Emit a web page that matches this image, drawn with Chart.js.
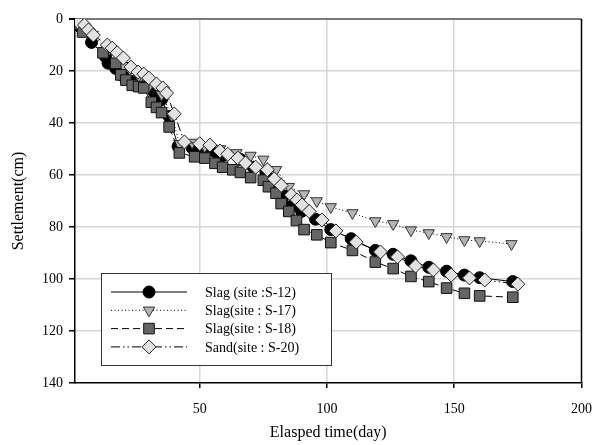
<!DOCTYPE html>
<html>
<head>
<meta charset="utf-8">
<script src="https://cdn.jsdelivr.net/npm/chart.js@4.4.1/dist/chart.umd.min.js"></script>
<style>
  html, body { margin: 0; padding: 0; background: #fff; }
  #wrap { width: 605px; height: 445px; }
</style>
</head>
<body>
<div id="wrap"><canvas id="settlementChart" width="605" height="445"></canvas></div>
<script>
// settlement readings [day, cm]
const slagS12 = [
    [3, 3], [7.5, 9], [13, 14.5], [14, 17], [17, 19], [20, 22], [24, 24], [28, 26], [32, 28], [35, 31],
    [38, 37.5], [41.5, 49], [47, 49.5], [51, 51], [56, 51], [59, 52.5], [66, 54], [71, 57], [76, 59],
    [80, 63], [83, 68], [86, 72], [90, 74], [95.5, 77], [101.5, 81], [109.5, 84.5], [119, 89],
    [126, 90.5], [133, 93], [140, 95.5], [147, 97], [154, 98.5], [160, 99.5], [173, 101]
];
const slagS17 = [
    [3, 2], [8, 6], [14, 12], [20, 18], [26, 22], [30, 26], [35, 29], [39, 37], [42, 48], [47, 47.5],
    [52, 49], [58, 50], [64.5, 51.5], [70, 52.5], [75, 54], [80, 58], [85, 64.5], [91, 67.3], [96, 70],
    [101.5, 72.3], [110, 74.6], [119, 77.7], [126, 78.8], [133, 81.2], [140, 82.3], [147, 83.8],
    [154, 85], [160, 85.4], [172.5, 86.5]
];
const slagS18 = [
    [2, 2], [4, 5], [12, 13], [17, 17], [19, 21.5], [21, 23.5], [23.5, 25.5], [26, 26], [28, 26.5],
    [31, 32], [33, 34], [35, 36], [38, 41.5], [42, 51.5], [48, 53], [52, 53.5], [56, 55.5], [59, 57],
    [63, 58], [66, 59], [70, 61], [75, 62], [77, 64.5], [80, 67], [82, 71], [85, 74], [88, 77.5],
    [91, 81], [96, 83], [101.5, 86], [110, 89], [119, 93.5], [126, 96], [133, 99], [140, 101],
    [147, 103.5], [154, 105.5], [160, 106.5], [173, 107]
];
const sandS20 = [
    [2, 1], [4.7, 2.3], [6.3, 4.2], [8.2, 6.2], [13.7, 10], [15.6, 11.2], [17.6, 13], [20, 15], [23, 18.5],
    [25.8, 20.4], [28, 21.2], [30, 22.7], [33, 25], [35.5, 26.5], [37, 28.5], [40, 36.5], [44, 47.3],
    [50, 48], [54, 48.5], [58, 50.8], [61, 52], [65, 53.5], [68, 55.4], [72, 57], [76.6, 58], [79.3, 61.5],
    [82, 64], [86, 67.7], [88.3, 69.6], [90.2, 71.5], [93, 74], [98, 77.3], [103.5, 81.5], [111.5, 85.8],
    [121, 89.6], [127.7, 91.5], [134.8, 95], [141.8, 96.5], [148.8, 98.5], [156, 99.6], [162, 100.4], [175, 102]
];
const seriesNames = ['Slag (site :S-12)', 'Slag(site : S-17)', 'Slag(site : S-18)', 'Sand(site : S-20)'];
const xTickValues = [50, 100, 150, 200];

const toPoints = arr => arr.map(p => ({ x: p[0], y: p[1] }));
const serif = 'Liberation Serif, Times New Roman, serif';

// legend box drawn by hand so line samples carry the marker
const boxLegend = {
    id: 'boxLegend',
    afterDatasetsDraw(chart) {
        const ctx = chart.ctx;
        const area = chart.chartArea;
        const left = area.left + 26, top = area.top + 254;
        const w = 230, h = 92;

        ctx.save();
        // right frame line
        ctx.strokeStyle = '#000';
        ctx.lineWidth = 1.5;
        ctx.beginPath();
        ctx.moveTo(area.right, area.top);
        ctx.lineTo(area.right, area.bottom);
        ctx.stroke();

        ctx.fillStyle = '#fff';
        ctx.fillRect(left, top, w, h);
        ctx.strokeStyle = '#333';
        ctx.lineWidth = 1;
        ctx.strokeRect(left + 0.5, top + 0.5, w, h);

        ctx.font = '14px ' + serif;
        ctx.textBaseline = 'middle';
        chart.data.datasets.forEach((ds, i) => {
            const y = top + 19 + i * 18.3;
            ctx.strokeStyle = ds.borderColor;
            ctx.lineWidth = 1;
            ctx.setLineDash(ds.borderDash || []);
            ctx.beginPath();
            ctx.moveTo(left + 10, y);
            ctx.lineTo(left + 86, y);
            ctx.stroke();
            ctx.setLineDash([]);
            ctx.fillStyle = ds.pointBackgroundColor;
            ctx.strokeStyle = ds.pointBorderColor;
            Chart.helpers.drawPoint(ctx, {
                pointStyle: ds.pointStyle,
                rotation: ds.pointRotation || 0,
                radius: ds.pointRadius,
                borderWidth: 1
            }, left + 48, y);
            ctx.fillStyle = '#000';
            ctx.fillText(ds.label, left + 104, y + 1);
        });
        ctx.restore();
    }
};

const ctx = document.getElementById('settlementChart').getContext('2d');
new Chart(ctx, {
    type: 'scatter',
    data: {
        datasets: [{
            label: seriesNames[0],
            data: toPoints(slagS12),
            showLine: true,
            borderColor: '#000',
            borderWidth: 1,
            pointStyle: 'circle',
            pointRadius: 6,
            pointBackgroundColor: '#000',
            pointBorderColor: '#000',
            pointBorderWidth: 1,
            order: 4
        }, {
            label: seriesNames[1],
            data: toPoints(slagS17),
            showLine: true,
            borderColor: '#000',
            borderWidth: 1,
            borderDash: [1, 2.5],
            pointStyle: 'triangle',
            pointRotation: 180,
            pointRadius: 6.5,
            pointBackgroundColor: '#b4b4b4',
            pointBorderColor: '#333',
            pointBorderWidth: 1,
            order: 3
        }, {
            label: seriesNames[2],
            data: toPoints(slagS18),
            showLine: true,
            borderColor: '#000',
            borderWidth: 1,
            borderDash: [7, 4],
            pointStyle: 'rect',
            pointRadius: 7.5,
            pointBackgroundColor: '#656565',
            pointBorderColor: '#111',
            pointBorderWidth: 1,
            order: 2
        }, {
            label: seriesNames[3],
            data: toPoints(sandS20),
            showLine: true,
            borderColor: '#000',
            borderWidth: 1,
            borderDash: [9, 3, 1.5, 3, 1.5, 3],
            pointStyle: 'rectRot',
            pointRadius: 7,
            pointBackgroundColor: '#e2e2e2',
            pointBorderColor: '#222',
            pointBorderWidth: 1,
            order: 1
        }]
    },
    options: {
        responsive: false,
        animation: false,
        layout: { padding: { top: 19, right: 22, left: 0, bottom: 0 } },
        scales: {
            x: {
                type: 'linear',
                min: 1,
                max: 200,
                afterBuildTicks: function (scale) {
                    scale.ticks = xTickValues.map(v => ({ value: v }));
                },
                afterFit: function (scale) { scale.height = 62; },
                ticks: {
                    color: '#000',
                    font: { family: serif, size: 14 },
                    padding: 13,
                    maxRotation: 0
                },
                grid: {
                    color: c => (c.tick && c.tick.value === 200) ? 'rgba(0,0,0,0)' : '#d6d6d6',
                    tickColor: '#000',
                    tickLength: 5,
                    lineWidth: 1.5
                },
                border: { color: '#000', width: 1.5 },
                title: {
                    display: true,
                    text: 'Elasped time(day)',
                    color: '#000',
                    font: { family: serif, size: 16 },
                    padding: { top: 0, bottom: 3 }
                }
            },
            y: {
                reverse: true,
                min: 0,
                max: 140,
                afterFit: function (scale) { scale.width = 75; },
                ticks: {
                    stepSize: 20,
                    color: '#000',
                    font: { family: serif, size: 14 },
                    padding: 6
                },
                grid: {
                    color: c => {
                        if (!c.tick) return '#d6d6d6';
                        if (c.tick.value === 0) return '#7a7a7a';
                        if (c.tick.value === 140) return 'rgba(0,0,0,0)';
                        return '#d6d6d6';
                    },
                    lineWidth: c => (c.tick && c.tick.value === 0) ? 2 : 1.5,
                    tickColor: '#000',
                    tickLength: 6
                },
                border: { color: '#000', width: 1.5 },
                title: {
                    display: true,
                    text: 'Settlement(cm)',
                    color: '#000',
                    font: { family: serif, size: 16 },
                    padding: { top: 9, bottom: 0 }
                }
            }
        },
        plugins: {
            legend: { display: false },
            tooltip: { enabled: false }
        }
    },
    plugins: [boxLegend]
});
</script>
</body>
</html>
